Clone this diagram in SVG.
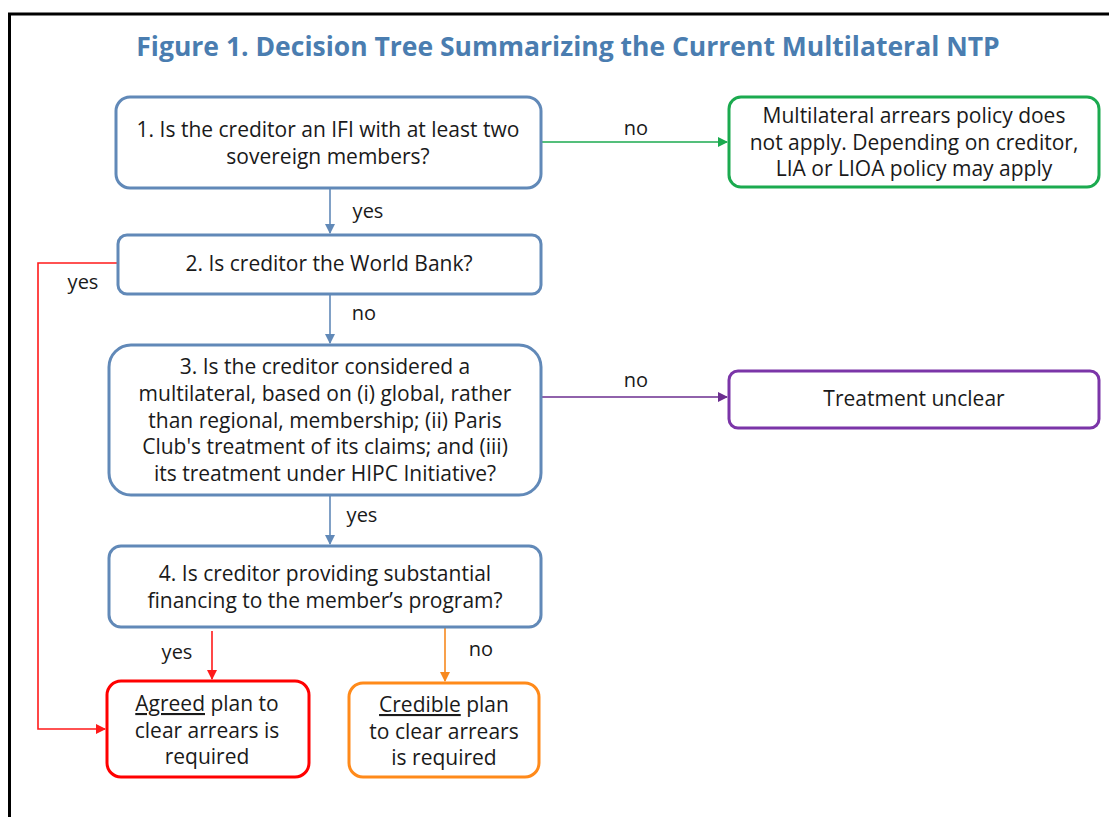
<svg xmlns="http://www.w3.org/2000/svg" width="1109" height="817" viewBox="0 0 1109 817">
<style>
.t{font-family:"Open Sans","Noto Sans","Liberation Sans",sans-serif;font-size:21px;fill:#1a1a1a;text-anchor:middle}
.lb{font-family:"Open Sans","Noto Sans","Liberation Sans",sans-serif;font-size:20px;fill:#1a1a1a;text-anchor:middle}
.q{fill:#fff;stroke:#6189B8;stroke-width:3}
.c{fill:none;stroke-width:1.6}
</style>
<defs>
<marker id="ab" markerWidth="10" markerHeight="10" refX="9" refY="5" orient="auto" markerUnits="userSpaceOnUse"><path d="M0,0L10,5L0,10z" fill="#6189B8"/></marker>
<marker id="ag" markerWidth="10" markerHeight="10" refX="9" refY="5" orient="auto" markerUnits="userSpaceOnUse"><path d="M0,0L10,5L0,10z" fill="#1BAA4F"/></marker>
<marker id="ap" markerWidth="10" markerHeight="10" refX="9" refY="5" orient="auto" markerUnits="userSpaceOnUse"><path d="M0,0L10,5L0,10z" fill="#6B2E8F"/></marker>
<marker id="ar" markerWidth="10" markerHeight="10" refX="9" refY="5" orient="auto" markerUnits="userSpaceOnUse"><path d="M0,0L10,5L0,10z" fill="#FF1A1A"/></marker>
<marker id="ao" markerWidth="10" markerHeight="10" refX="9" refY="5" orient="auto" markerUnits="userSpaceOnUse"><path d="M0,0L10,5L0,10z" fill="#F7891F"/></marker>
</defs>
<rect width="1109" height="817" fill="#fff"/>
<path d="M9.5,817V14H1109" fill="none" stroke="#000" stroke-width="3"/>
<text x="568" y="56" style="font-family:'Open Sans','Noto Sans','Liberation Sans',sans-serif;font-size:26.5px;font-weight:bold;fill:#4A7DB0;text-anchor:middle">Figure 1. Decision Tree Summarizing the Current Multilateral NTP</text>

<g id="connectors">
<path class="c" d="M541,142H727" stroke="#1BAA4F" marker-end="url(#ag)"/>
<path class="c" d="M330,188V233" stroke="#6189B8" marker-end="url(#ab)"/>
<path class="c" d="M117,263H38V729H105" stroke="#FF1A1A" marker-end="url(#ar)"/>
<path class="c" d="M330,294V343" stroke="#6189B8" marker-end="url(#ab)"/>
<path class="c" d="M541,397H727" stroke="#6B2E8F" marker-end="url(#ap)"/>
<path class="c" d="M330,495V544" stroke="#6189B8" marker-end="url(#ab)"/>
<path class="c" d="M212,631V679" stroke="#FF1A1A" marker-end="url(#ar)"/>
<path class="c" d="M445,627V681" stroke="#F7891F" marker-end="url(#ao)"/>
<text class="lb" x="636" y="135">no</text>
<text class="lb" x="368" y="218">yes</text>
<text class="lb" x="83" y="289">yes</text>
<text class="lb" x="364" y="320">no</text>
<text class="lb" x="636" y="387">no</text>
<text class="lb" x="362" y="522">yes</text>
<text class="lb" x="177" y="659">yes</text>
<text class="lb" x="481" y="656">no</text>
</g>

<g id="q1">
<rect class="q" x="116" y="97" width="425" height="91" rx="14"/>
<text class="t" x="328" y="137">1. Is the creditor an IFI with at least two</text>
<text class="t" x="328" y="164">sovereign members?</text>
</g>
<g id="q2">
<rect class="q" x="118" y="235" width="423" height="59" rx="9"/>
<text class="t" x="329" y="271">2. Is creditor the World Bank?</text>
</g>
<g id="q3">
<rect class="q" x="109" y="345" width="432" height="150" rx="22"/>
<text class="t" x="325" y="374">3. Is the creditor considered a</text>
<text class="t" x="325" y="401">multilateral, based on (i) global, rather</text>
<text class="t" x="325" y="428">than regional, membership; (ii) Paris</text>
<text class="t" x="325" y="454">Club's treatment of its claims; and (iii)</text>
<text class="t" x="325" y="481">its treatment under HIPC Initiative?</text>
</g>
<g id="q4">
<rect class="q" x="109" y="546" width="432" height="81" rx="12"/>
<text class="t" x="325" y="581">4. Is creditor providing substantial</text>
<text class="t" x="325" y="608">financing to the member’s program?</text>
</g>
<g id="r-na">
<rect x="729" y="97" width="370" height="90" rx="12" fill="#fff" stroke="#1BAA4F" stroke-width="3"/>
<text class="t" x="914" y="123">Multilateral arrears policy does</text>
<text class="t" x="914" y="150">not apply. Depending on creditor,</text>
<text class="t" x="914" y="176">LIA or LIOA policy may apply</text>
</g>
<g id="r-unclear">
<rect x="729" y="371" width="370" height="57" rx="9" fill="#fff" stroke="#7B35A8" stroke-width="3"/>
<text class="t" x="914" y="406">Treatment unclear</text>
</g>
<g id="r-agreed">
<rect x="107" y="681" width="202" height="96" rx="14" fill="#fff" stroke="#FF0000" stroke-width="3"/>
<text class="t" x="207" y="711"><tspan text-decoration="underline">Agreed</tspan> plan to</text>
<text class="t" x="207" y="738">clear arrears is</text>
<text class="t" x="207" y="764">required</text>
</g>
<g id="r-credible">
<rect x="349" y="683" width="190" height="94" rx="14" fill="#fff" stroke="#FF8A1A" stroke-width="3"/>
<text class="t" x="444" y="712"><tspan text-decoration="underline">Credible</tspan> plan</text>
<text class="t" x="444" y="739">to clear arrears</text>
<text class="t" x="444" y="765">is required</text>
</g>
</svg>
